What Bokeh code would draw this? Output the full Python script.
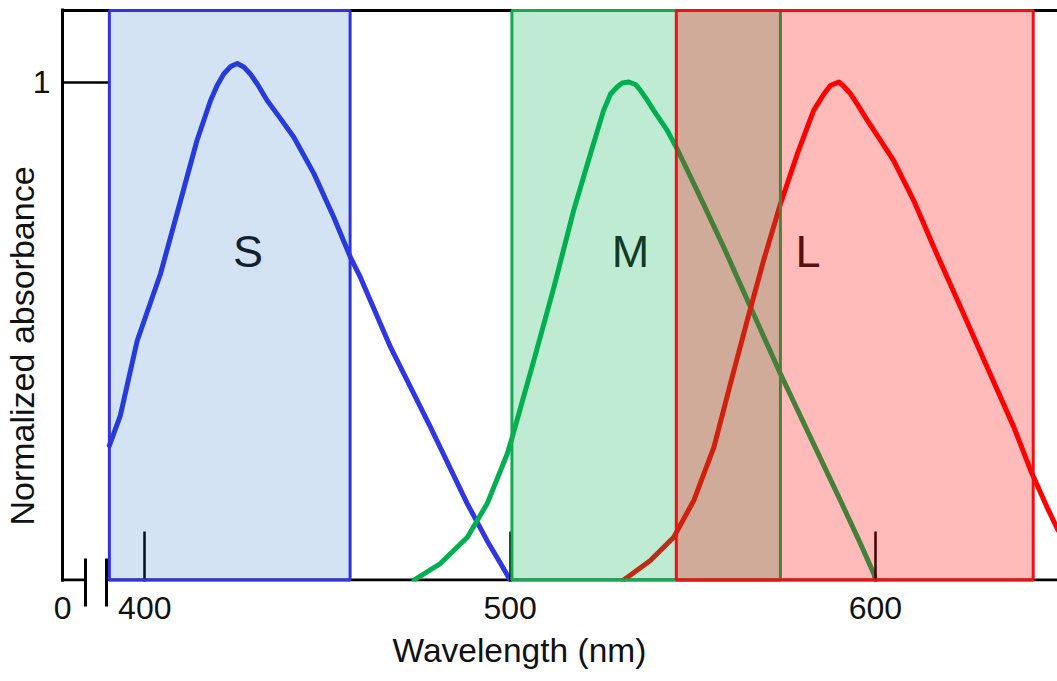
import math
from bokeh.plotting import figure
from bokeh.models import ColumnDataSource, FixedTicker, Title
from bokeh.core.properties import value
from bokeh.embed import file_html
from bokeh.resources import INLINE

# ---------------- data ----------------
s_nm = [390.3, 393.3, 397.9, 404.3, 409.8, 414.3, 418.0, 419.8, 421.6, 423.5, 425.3,
        427.1, 428.9, 430.8, 433.5, 437.1, 440.8, 446.3, 451.7, 456.3, 459.0, 467.3,
        478.2, 488.3, 493.7, 497.4, 500.0]
s_val = [0.27, 0.33, 0.48, 0.615, 0.762, 0.883, 0.963, 0.993, 1.016, 1.031, 1.037,
         1.030, 1.016, 0.996, 0.963, 0.927, 0.889, 0.816, 0.729, 0.648, 0.608, 0.467,
         0.307, 0.153, 0.079, 0.033, 0.0]

m_nm = [473.7, 480.9, 488.3, 493.7, 499.2, 500.6, 506.5, 512.0, 517.4, 522.0, 525.6,
        527.5, 529.3, 530.7, 532.5, 534.3, 535.7, 537.5, 539.3, 543.0, 545.7, 551.2,
        558.5, 565.8, 574.0, 582.2, 590.4, 595.9, 599.6, 600.0]
m_val = [0.0, 0.033, 0.086, 0.153, 0.253, 0.287, 0.441, 0.588, 0.742, 0.856, 0.943,
         0.976, 0.990, 0.998, 1.0, 0.995, 0.983, 0.964, 0.943, 0.903, 0.866, 0.782,
         0.668, 0.548, 0.414, 0.287, 0.160, 0.073, 0.012, 0.0]

l_nm = [531.1, 538.4, 544.8, 550.3, 555.8, 560.3, 564.9, 569.4, 574.0, 578.6, 583.1,
        585.9, 587.7, 590.0, 591.4, 593.2, 595.0, 597.8, 601.4, 605.0, 610.5, 616.0,
        623.3, 630.6, 637.9, 642.5, 647.0, 650.0]
l_val = [0.0, 0.039, 0.086, 0.160, 0.267, 0.394, 0.521, 0.642, 0.755, 0.855, 0.943,
         0.976, 0.993, 1.0, 0.991, 0.976, 0.956, 0.923, 0.883, 0.842, 0.762, 0.668,
         0.548, 0.427, 0.307, 0.220, 0.146, 0.100]

band_names = ["S", "M", "L"]
band_left = [390.3, 500.5, 545.5]
band_right = [456.2, 574.0, 643.2]
band_label_x = [428.25, 532.96, 581.55]
band_label_y = [0.659, 0.659, 0.659]

x_ticks = [400, 500, 600]
x_tick_labels = ["400", "500", "600"]
zero_label = "0"
y_ticks = [1]
y_tick_labels = ["1"]
axis_breaks = [383.77, 389.52]

x_title = "Wavelength (nm)"
y_title = "Normalized absorbance"

# ---------------- layout ----------------
X_LEFT, X_RIGHT = 377.47, 649.85
BOX_TOP = 1.1436
Y_BOTTOM, Y_TOP = -0.003, 1.1476
FONT = "Liberation Sans"

p = figure(width=1057, height=681, x_range=(X_LEFT, X_RIGHT), y_range=(Y_BOTTOM, Y_TOP),
           output_backend="svg", toolbar_location=None,
           min_border_left=62, min_border_right=0, min_border_top=8, min_border_bottom=100)
p.grid.visible = False
p.outline_line_color = None
p.background_fill_color = "white"
p.border_fill_color = "white"

# x axis
zero_tick = X_LEFT + 0.05
xa = p.xaxis[0]
xa.ticker = FixedTicker(ticks=[zero_tick] + x_ticks, minor_ticks=axis_breaks)
overrides = {zero_tick: zero_label}
overrides.update({t: lab for t, lab in zip(x_ticks, x_tick_labels)})
xa.major_label_overrides = overrides
xa.axis_line_color = None
xa.major_tick_in = 50
xa.major_tick_out = 0
xa.major_tick_line_width = 2.5
xa.major_tick_line_color = "black"
xa.minor_tick_in = 23
xa.minor_tick_out = 25
xa.minor_tick_line_width = 3
xa.minor_tick_line_color = "black"
xa.major_label_text_font = FONT
xa.major_label_text_font_size = "32px"
xa.major_label_text_color = "#111111"
xa.major_label_standoff = -10

# y axis
ya = p.yaxis[0]
ya.ticker = FixedTicker(ticks=y_ticks)
ya.major_label_overrides = {t: lab for t, lab in zip(y_ticks, y_tick_labels)}
ya.axis_line_width = 3
ya.axis_line_color = "black"
ya.major_tick_in = 46
ya.major_tick_out = 0
ya.major_tick_line_width = 2.5
ya.major_tick_line_color = "black"
ya.minor_tick_line_color = None
ya.major_label_text_font = FONT
ya.major_label_text_font_size = "32px"
ya.major_label_text_color = "#111111"
ya.major_label_standoff = 12

# axis titles (as side titles so that they can be offset)
p.add_layout(Title(text=x_title, align="left", offset=330, standoff=20,
                   vertical_align="top", text_font=FONT, text_font_size="33.5px",
                   text_font_style="normal", text_color="#111111"), "below")
p.add_layout(Title(text=y_title, align="left", offset=56, standoff=-22,
                   vertical_align="bottom", text_font=FONT, text_font_size="34px",
                   text_font_style="normal", text_color="#111111"), "left")

# frame lines (bottom with break, top)
p.segment(x0=[X_LEFT, axis_breaks[1], X_LEFT], y0=[0, 0, BOX_TOP],
          x1=[axis_breaks[0], X_RIGHT, X_RIGHT], y1=[0, 0, BOX_TOP],
          line_color="black", line_width=3)

# curves
p.line(s_nm, s_val, line_color="#3036e0", line_width=5, line_join="round", line_cap="round")
p.line(m_nm, m_val, line_color="#00b050", line_width=5, line_join="round", line_cap="round")
p.line(l_nm, l_val, line_color="#ff0000", line_width=5, line_join="round", line_cap="round")

# band letters
lab_src = ColumnDataSource(dict(x=band_label_x, y=band_label_y, t=band_names))
p.text(x="x", y="y", text="t", source=lab_src, text_font=value(FONT),
       text_font_size="45px", text_color="#161616", text_align="center",
       text_baseline="alphabetic")

# translucent bands
band_fill = ["#005abe", "#00b050", "#ff0000"]
band_alpha = [0.17, 0.25, 0.27]
band_line = ["#3333dd", "#14aa50", "#ee1111"]
for i in range(3):
    p.quad(left=[band_left[i]], right=[band_right[i]], bottom=[0], top=[BOX_TOP],
           fill_color=band_fill[i], fill_alpha=band_alpha[i],
           line_color=band_line[i], line_width=3, level="overlay")

open("out.html", "w").write(file_html(p, INLINE))
